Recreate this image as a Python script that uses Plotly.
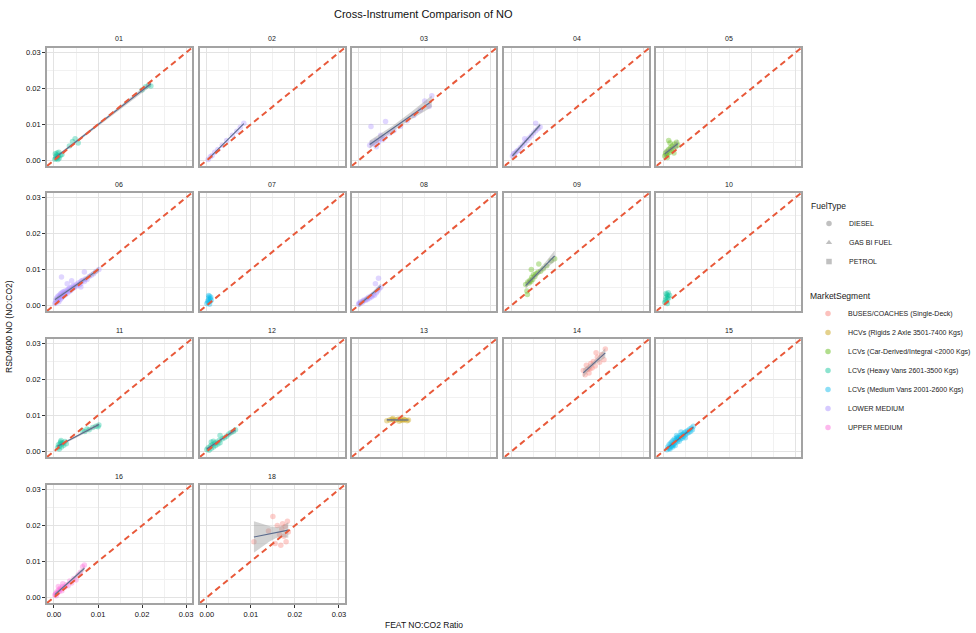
import numpy as np
import plotly.graph_objects as go

W, H = 976, 633

# ---------------- data ----------------
PANELS = ["01", "02", "03", "04", "05", "06", "07", "08", "09", "10",
          "11", "12", "13", "14", "15", "16", "18"]

SEGMENTS = ["BUSES/COACHES (Single-Deck)",
            "HCVs (Rigids 2 Axle 3501-7400 Kgs)",
            "LCVs (Car-Derived/Integral <2000 Kgs)",
            "LCVs (Heavy Vans 2601-3500 Kgs)",
            "LCVs (Medium Vans 2001-2600 Kgs)",
            "LOWER MEDIUM",
            "UPPER MEDIUM"]
SEG_COLORS = ["#F8766D", "#C49A00", "#53B400", "#00C094", "#00B6EB", "#A58AFF", "#FB61D7"]

FUEL_TYPES = ["DIESEL", "GAS BI FUEL", "PETROL"]
FUEL_SYMBOLS = ["circle", "triangle-up", "square"]

PANEL_SEGMENT = ["LCVs (Heavy Vans 2601-3500 Kgs)", "LOWER MEDIUM", "LOWER MEDIUM", "LOWER MEDIUM",
                 "LCVs (Car-Derived/Integral <2000 Kgs)", "LOWER MEDIUM", "LCVs (Medium Vans 2001-2600 Kgs)",
                 "LOWER MEDIUM", "LCVs (Car-Derived/Integral <2000 Kgs)", "LCVs (Heavy Vans 2601-3500 Kgs)",
                 "LCVs (Heavy Vans 2601-3500 Kgs)", "LCVs (Heavy Vans 2601-3500 Kgs)",
                 "HCVs (Rigids 2 Axle 3501-7400 Kgs)", "BUSES/COACHES (Single-Deck)",
                 "LCVs (Medium Vans 2001-2600 Kgs)", "UPPER MEDIUM", "BUSES/COACHES (Single-Deck)"]

# panels with a visible lm smooth
FIT_PANELS = ["01", "02", "03", "04", "05", "06", "08", "09", "11", "12", "13", "14", "15", "16", "18"]

TICKS = [0.00, 0.01, 0.02, 0.03]
TICK_LABELS = ["0.00", "0.01", "0.02", "0.03"]
MINOR_TICKS = [0.005, 0.015, 0.025]
AX_RANGE = [-0.0016, 0.0313]

x_01 = [0.0002, 0.0004, 0.0005, 0.0006, 0.0008, 0.0010, 0.0012, 0.0003, 0.0007, 0.0015, 0.0018,
        0.0009, 0.0011, 0.0035, 0.0042, 0.0048, 0.0055, 0.0200, 0.0208, 0.0215, 0.0220]
y_01 = [0.0003, 0.0010, 0.0005, 0.0015, 0.0008, 0.0012, 0.0006, 0.0018, 0.0020, 0.0014, 0.0016,
        0.0002, 0.0022, 0.0040, 0.0052, 0.0060, 0.0048, 0.0196, 0.0205, 0.0210, 0.0207]

x_02 = [0.0003, 0.0008, 0.0012, 0.0018, 0.0025, 0.0035, 0.0045, 0.0058, 0.0068, 0.0076, 0.0084]
y_02 = [0.0002, 0.0010, 0.0013, 0.0022, 0.0030, 0.0042, 0.0055, 0.0070, 0.0081, 0.0092, 0.0103]

x_03 = [0.0025, 0.0030, 0.0035, 0.0040, 0.0045, 0.0050, 0.0055, 0.0060, 0.0028, 0.0061, 0.0070,
        0.0080, 0.0095, 0.0110, 0.0125, 0.0140, 0.0150, 0.0160, 0.0166, 0.0040, 0.0050]
y_03 = [0.0042, 0.0048, 0.0045, 0.0055, 0.0050, 0.0060, 0.0058, 0.0065, 0.0094, 0.0108, 0.0075,
        0.0082, 0.0095, 0.0110, 0.0125, 0.0140, 0.0165, 0.0150, 0.0180, 0.0038, 0.0070]

x_04 = [0.0002, 0.0005, 0.0008, 0.0012, 0.0015, 0.0020, 0.0025, 0.0030, 0.0035, 0.0040, 0.0045,
        0.0050, 0.0055, 0.0060, 0.0065, 0.0030, 0.0055]
y_04 = [0.0012, 0.0018, 0.0020, 0.0025, 0.0028, 0.0035, 0.0042, 0.0048, 0.0055, 0.0062, 0.0068,
        0.0076, 0.0082, 0.0088, 0.0093, 0.0060, 0.0103]

x_05 = [0.0003, 0.0005, 0.0007, 0.0008, 0.0010, 0.0012, 0.0014, 0.0016, 0.0018, 0.0020, 0.0022,
        0.0025, 0.0028, 0.0030, 0.0033, 0.0012, 0.0015, 0.0009, 0.0024]
y_05 = [0.0012, 0.0020, 0.0015, 0.0025, 0.0018, 0.0030, 0.0022, 0.0035, 0.0028, 0.0040, 0.0032,
        0.0045, 0.0038, 0.0050, 0.0042, 0.0055, 0.0048, 0.0008, 0.0020]

x_06 = [0.0002, 0.0004, 0.0005, 0.0006, 0.0008, 0.0009, 0.0010, 0.0011, 0.0012, 0.0013,
        0.0014, 0.0015, 0.0016, 0.0017, 0.0018, 0.0019, 0.0020, 0.0021, 0.0022, 0.0024,
        0.0025, 0.0026, 0.0028, 0.0030, 0.0031, 0.0033, 0.0035, 0.0036, 0.0038, 0.0040,
        0.0042, 0.0044, 0.0045, 0.0047, 0.0050, 0.0052, 0.0055, 0.0057, 0.0060, 0.0061,
        0.0063, 0.0066, 0.0069, 0.0072, 0.0075, 0.0080, 0.0085, 0.0090, 0.0095, 0.0102,
        0.0017, 0.0069, 0.0061, 0.0030, 0.0040]
y_06 = [0.0005, 0.0015, 0.0008, 0.0020, 0.0012, 0.0025, 0.0018, 0.0010, 0.0028, 0.0022,
        0.0016, 0.0032, 0.0026, 0.0020, 0.0035, 0.0024, 0.0030, 0.0038, 0.0027, 0.0033,
        0.0040, 0.0029, 0.0036, 0.0042, 0.0034, 0.0045, 0.0039, 0.0048, 0.0041, 0.0050,
        0.0046, 0.0055, 0.0049, 0.0052, 0.0058, 0.0054, 0.0062, 0.0057, 0.0065, 0.0060,
        0.0068, 0.0070, 0.0066, 0.0074, 0.0072, 0.0080, 0.0084, 0.0088, 0.0094, 0.0100,
        0.0079, 0.0093, 0.0051, 0.0060, 0.0068]

x_07 = [0.0000, 0.0002, 0.0003, 0.0004, 0.0005, 0.0006, 0.0007, 0.0008, 0.0009, 0.0010, 0.0004, 0.0006]
y_07 = [0.0005, 0.0012, 0.0008, 0.0020, 0.0015, 0.0025, 0.0010, 0.0018, 0.0022, 0.0014, 0.0027, 0.0003]

x_08 = [0.0000, 0.0001, 0.0003, 0.0005, 0.0008, 0.0010, 0.0012, 0.0015, 0.0018, 0.0020, 0.0022,
        0.0025, 0.0028, 0.0030, 0.0033, 0.0036, 0.0040, 0.0043, 0.0046, 0.0050, 0.0045, 0.0038]
y_08 = [0.0003, 0.0006, 0.0005, 0.0010, 0.0008, 0.0012, 0.0015, 0.0013, 0.0018, 0.0016, 0.0022,
        0.0020, 0.0026, 0.0024, 0.0030, 0.0028, 0.0035, 0.0040, 0.0045, 0.0050, 0.0075, 0.0060]

x_09 = [0.0032, 0.0035, 0.0037, 0.0040, 0.0042, 0.0044, 0.0046, 0.0048, 0.0050, 0.0053,
        0.0056, 0.0060, 0.0062, 0.0066, 0.0072, 0.0080, 0.0090, 0.0098, 0.0045, 0.0036]
y_09 = [0.0058, 0.0040, 0.0065, 0.0062, 0.0070, 0.0066, 0.0078, 0.0072, 0.0085, 0.0080,
        0.0088, 0.0092, 0.0115, 0.0095, 0.0102, 0.0110, 0.0124, 0.0130, 0.0100, 0.0030]

x_10 = [0.0003, 0.0005, 0.0006, 0.0007, 0.0008, 0.0009, 0.0010, 0.0011, 0.0012, 0.0014, 0.0006, 0.0009]
y_10 = [0.0008, 0.0015, 0.0022, 0.0010, 0.0030, 0.0018, 0.0026, 0.0035, 0.0020, 0.0028, 0.0033, 0.0005]

x_11 = [0.0008, 0.0010, 0.0012, 0.0014, 0.0015, 0.0017, 0.0018, 0.0020, 0.0022, 0.0025, 0.0028,
        0.0012, 0.0016, 0.0064, 0.0070, 0.0075, 0.0080, 0.0088, 0.0095, 0.0100, 0.0102]
y_11 = [0.0010, 0.0018, 0.0014, 0.0022, 0.0026, 0.0012, 0.0020, 0.0024, 0.0017, 0.0027, 0.0021,
        0.0006, 0.0030, 0.0058, 0.0055, 0.0062, 0.0060, 0.0066, 0.0070, 0.0068, 0.0073]

x_12 = [0.0000, 0.0003, 0.0005, 0.0008, 0.0010, 0.0012, 0.0015, 0.0018, 0.0020, 0.0022, 0.0025, 0.0028,
        0.0030, 0.0035, 0.0040, 0.0045, 0.0050, 0.0055, 0.0060, 0.0065, 0.0010, 0.0015, 0.0030]
y_12 = [0.0005, 0.0010, 0.0003, 0.0015, 0.0008, 0.0018, 0.0012, 0.0022, 0.0016, 0.0025, 0.0020, 0.0030,
        0.0024, 0.0035, 0.0038, 0.0042, 0.0048, 0.0052, 0.0055, 0.0060, 0.0026, 0.0028, 0.0044]

x_13 = [0.0064, 0.0070, 0.0075, 0.0080, 0.0085, 0.0090, 0.0095, 0.0100, 0.0105, 0.0110, 0.0113,
        0.0078, 0.0092, 0.0102]
y_13 = [0.0085, 0.0087, 0.0089, 0.0086, 0.0088, 0.0090, 0.0087, 0.0086, 0.0088, 0.0085, 0.0087,
        0.0091, 0.0084, 0.0089]

x_14 = [0.0163, 0.0167, 0.0170, 0.0173, 0.0176, 0.0180, 0.0183, 0.0186, 0.0190, 0.0195, 0.0200,
        0.0205, 0.0210, 0.0213, 0.0178, 0.0192]
y_14 = [0.0225, 0.0213, 0.0240, 0.0228, 0.0218, 0.0245, 0.0232, 0.0250, 0.0238, 0.0262, 0.0248,
        0.0270, 0.0255, 0.0285, 0.0230, 0.0275]

x_15 = [0.0008, 0.0010, 0.0012, 0.0013, 0.0015, 0.0016, 0.0018, 0.0019, 0.0020, 0.0021,
        0.0022, 0.0024, 0.0025, 0.0026, 0.0027, 0.0028, 0.0030, 0.0031, 0.0032, 0.0033,
        0.0035, 0.0036, 0.0038, 0.0039, 0.0040, 0.0042, 0.0043, 0.0045, 0.0046, 0.0048,
        0.0050, 0.0052, 0.0054, 0.0056, 0.0058, 0.0060, 0.0062, 0.0064, 0.0066, 0.0068,
        0.0015, 0.0022, 0.0030, 0.0040, 0.0050]
y_15 = [0.0004, 0.0012, 0.0008, 0.0018, 0.0010, 0.0022, 0.0014, 0.0026, 0.0018, 0.0012,
        0.0030, 0.0020, 0.0034, 0.0024, 0.0016, 0.0030, 0.0036, 0.0026, 0.0040, 0.0032,
        0.0038, 0.0028, 0.0044, 0.0034, 0.0040, 0.0046, 0.0036, 0.0048, 0.0042, 0.0052,
        0.0046, 0.0055, 0.0050, 0.0058, 0.0052, 0.0062, 0.0056, 0.0065, 0.0060, 0.0070,
        0.0006, 0.0016, 0.0044, 0.0054, 0.0038]

x_16 = [0.0002, 0.0004, 0.0005, 0.0006, 0.0008, 0.0010, 0.0012, 0.0014, 0.0016, 0.0018, 0.0020, 0.0024,
        0.0028, 0.0032, 0.0036, 0.0040, 0.0045, 0.0050, 0.0055, 0.0060, 0.0065, 0.0069, 0.0010, 0.0020]
y_16 = [0.0006, 0.0010, 0.0004, 0.0015, 0.0012, 0.0020, 0.0016, 0.0025, 0.0022, 0.0018, 0.0030, 0.0028,
        0.0035, 0.0032, 0.0045, 0.0040, 0.0052, 0.0048, 0.0062, 0.0070, 0.0085, 0.0090, 0.0030, 0.0038]

x_18 = [0.0107, 0.0140, 0.0150, 0.0155, 0.0160, 0.0165, 0.0168, 0.0172, 0.0175, 0.0178, 0.0180,
        0.0183, 0.0185, 0.0170]
y_18 = [0.0155, 0.0185, 0.0225, 0.0150, 0.0200, 0.0175, 0.0145, 0.0205, 0.0170, 0.0198, 0.0155,
        0.0212, 0.0182, 0.0190]

X_DATA = [x_01, x_02, x_03, x_04, x_05, x_06, x_07, x_08, x_09, x_10, x_11, x_12, x_13, x_14, x_15, x_16, x_18]
Y_DATA = [y_01, y_02, y_03, y_04, y_05, y_06, y_07, y_08, y_09, y_10, y_11, y_12, y_13, y_14, y_15, y_16, y_18]

# ---------------- layout geometry (pixels) ----------------
COL_LEFT = [47, 200, 352, 505, 657]
ROW_TOP = [48, 193, 339, 485]
PW, PH = 145, 118

FONT = "Liberation Sans, Arial, sans-serif"
TXT = "#1a1a1a"


def t975(df):
    z = 1.959964
    return (z + (z**3 + z) / (4 * df) + (5 * z**5 + 16 * z**3 + 3 * z) / (96 * df**2)
            + (3 * z**7 + 19 * z**5 + 17 * z**3 - 15 * z) / (384 * df**3))


def lm_smooth(x, y, n=80):
    x = np.asarray(x, float)
    y = np.asarray(y, float)
    X = np.column_stack([np.ones_like(x), x])
    beta, *_ = np.linalg.lstsq(X, y, rcond=None)
    resid = y - X @ beta
    df = len(x) - 2
    s2 = resid @ resid / df
    inv = np.linalg.inv(X.T @ X)
    xs = np.linspace(x.min(), x.max(), n)
    Xs = np.column_stack([np.ones_like(xs), xs])
    fit = Xs @ beta
    se = np.sqrt(np.einsum("ij,jk,ik->i", Xs, inv, Xs) * s2)
    t = t975(df)
    return xs, fit, fit - t * se, fit + t * se


fig = go.Figure()
layout = {}
annotations = []

for i, pid in enumerate(PANELS):
    r, c = divmod(i, 5)
    k = i + 1
    xa = "x" if k == 1 else f"x{k}"
    ya = "y" if k == 1 else f"y{k}"
    x0 = COL_LEFT[c]
    top = ROW_TOP[r]
    xdom = [x0 / W, (x0 + PW) / W]
    ydom = [1 - (top + PH) / H, 1 - top / H]

    show_y = (c == 0)
    show_x = pid in ("16", "18")

    common = dict(
        range=AX_RANGE, showgrid=True, gridcolor="#E3E3E3", gridwidth=0.8,
        zeroline=False, showline=True, mirror=True, linecolor="#A3A3A3", linewidth=1.5,
        tickvals=TICKS, ticktext=TICK_LABELS,
        tickfont=dict(family=FONT, size=7.5, color="#111"),
        minor=dict(tickvals=MINOR_TICKS, showgrid=True, gridcolor="#F1F1F1", gridwidth=0.6),
        fixedrange=True,
    )
    xkey = "xaxis" if k == 1 else f"xaxis{k}"
    ykey = "yaxis" if k == 1 else f"yaxis{k}"
    layout[xkey] = dict(common, domain=xdom, anchor=ya,
                        ticks="outside" if show_x else "", ticklen=3, tickwidth=1, tickcolor="#333",
                        showticklabels=show_x)
    layout[ykey] = dict(common, domain=ydom, anchor=xa,
                        ticks="outside" if show_y else "", ticklen=3, tickwidth=1, tickcolor="#333",
                        showticklabels=show_y)

    seg = PANEL_SEGMENT[i]
    col = SEG_COLORS[SEGMENTS.index(seg)]
    xd, yd = X_DATA[i], Y_DATA[i]

    fig.add_trace(go.Scatter(
        x=xd, y=yd, mode="markers", xaxis=xa, yaxis=ya, showlegend=False,
        marker=dict(color=col, size=5.5, opacity=0.35, symbol="circle", line=dict(width=0)),
        hoverinfo="skip"))

    if pid in FIT_PANELS:
        xs, fit, lo, hi = lm_smooth(xd, yd)
        fig.add_trace(go.Scatter(
            x=np.concatenate([xs, xs[::-1]]), y=np.concatenate([hi, lo[::-1]]),
            mode="lines", fill="toself", fillcolor="rgba(150,150,150,0.42)",
            line=dict(width=0), xaxis=xa, yaxis=ya, showlegend=False, hoverinfo="skip"))
        fig.add_trace(go.Scatter(
            x=xs, y=fit, mode="lines", line=dict(color="#5a6a8c", width=1.1),
            xaxis=xa, yaxis=ya, showlegend=False, hoverinfo="skip"))

    # y = x reference line across the full panel range
    fig.add_trace(go.Scatter(
        x=AX_RANGE, y=AX_RANGE, mode="lines",
        line=dict(color="#E8593A", width=2, dash="6px,4px"),
        xaxis=xa, yaxis=ya, showlegend=False, hoverinfo="skip"))

    annotations.append(dict(
        text=pid, x=(x0 + PW / 2) / W, y=1 - (top - 9) / H, xref="paper", yref="paper",
        xanchor="center", yanchor="middle", showarrow=False,
        font=dict(family=FONT, size=7, color=TXT)))

# legend entries
for ft, sym in zip(FUEL_TYPES, FUEL_SYMBOLS):
    fig.add_trace(go.Scatter(
        x=[None], y=[None], mode="markers", name=ft, legend="legend",
        marker=dict(symbol=sym, color="#8c8c8c", size=5.5, opacity=0.55)))
for seg, col in zip(SEGMENTS, SEG_COLORS):
    fig.add_trace(go.Scatter(
        x=[None], y=[None], mode="markers", name=seg, legend="legend2",
        marker=dict(symbol="circle", color=col, size=5.5, opacity=0.45)))

annotations += [
    dict(text="Cross-Instrument Comparison of NO", x=424 / W, y=1 - 14 / H, xref="paper", yref="paper",
         xanchor="center", yanchor="middle", showarrow=False, font=dict(family=FONT, size=11, color="#111")),
    dict(text="FEAT NO:CO2 Ratio", x=424 / W, y=1 - 625 / H, xref="paper", yref="paper",
         xanchor="center", yanchor="middle", showarrow=False, font=dict(family=FONT, size=8.5, color="#111")),
    dict(text="RSD4600 NO (NO:CO2)", x=9 / W, y=1 - 326 / H, xref="paper", yref="paper", textangle=-90,
         xanchor="center", yanchor="middle", showarrow=False, font=dict(family=FONT, size=8.5, color="#111")),
]

leg_common = dict(xanchor="left", yanchor="top", bgcolor="rgba(0,0,0,0)",
                  font=dict(family=FONT, size=7, color=TXT), tracegroupgap=0, itemwidth=30)
fig.update_layout(
    width=W, height=H, margin=dict(l=0, r=0, t=0, b=0),
    paper_bgcolor="white", plot_bgcolor="white",
    font=dict(family=FONT, color=TXT),
    annotations=annotations,
    legend=dict(leg_common, x=809 / W, y=1 - 198 / H,
                title=dict(text="FuelType", font=dict(family=FONT, size=8.5, color=TXT))),
    legend2=dict(leg_common, x=809 / W, y=1 - 288 / H,
                 title=dict(text="MarketSegment", font=dict(family=FONT, size=8.5, color=TXT))),
    **layout,
)

fig.write_html("out.html", config={"displayModeBar": False},
               post_script="document.body.style.margin='0';")
